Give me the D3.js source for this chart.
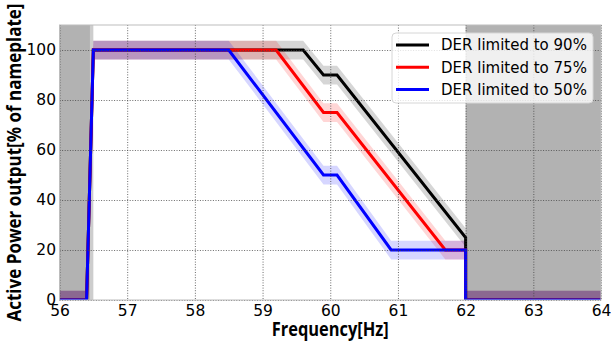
<!DOCTYPE html>
<html>
<head>
<meta charset="utf-8">
<script src="https://cdn.jsdelivr.net/npm/d3@7"></script>
<style>
  html, body { margin: 0; padding: 0; background: #fff; }
  svg { display: block; }
</style>
</head>
<body>
<div id="chart"></div>
<script>
// series: frequency breakpoints [Hz] and active power [% of nameplate]
const freq90 = [56, 56.4, 56.5, 59.6, 59.9, 60.1, 62, 62, 64];
const pow90  = [0, 0, 100, 100, 90, 90, 25, 0, 0];
const freq75 = [56, 56.4, 56.5, 59.2, 59.9, 60.1, 61.7, 62, 62, 64];
const pow75  = [0, 0, 100, 100, 75, 75, 20, 20, 0, 0];
const freq50 = [56, 56.4, 56.5, 58.5, 59.9, 60.1, 60.9, 62, 62, 64];
const pow50  = [0, 0, 100, 100, 50, 50, 20, 20, 0, 0];

const seriesNames = ['DER limited to 90%', 'DER limited to 75%', 'DER limited to 50%'];
const seriesColors = ['#000000', '#ff0000', '#0000ff'];

// trip zones (shaded)
const tripZones = [[56, 56.45], [62, 64]];
const tripEdge = [56.45, 56.5];

const xTicks = [56, 57, 58, 59, 60, 61, 62, 63, 64];
const yTicks = [0, 20, 40, 60, 80, 100];
const bandHalf = 3.75;

const W = 611, H = 341;
const margin = { top: 25, right: 10, bottom: 41, left: 59.5 };
const width = W - margin.left - margin.right;
const height = H - margin.top - margin.bottom;

const svg = d3.select('#chart').append('svg')
  .attr('width', W).attr('height', H);

svg.append('defs').append('clipPath').attr('id', 'plot-clip')
  .append('rect').attr('width', width).attr('height', height);

const g = svg.append('g')
  .attr('transform', `translate(${margin.left},${margin.top})`);

const x = d3.scaleLinear().domain([56, 64]).range([0, width]);
const y = d3.scaleLinear().domain([0, 110]).range([height, 0]);

const series = [
  freq90.map((f, i) => ({ f, p: pow90[i] })),
  freq75.map((f, i) => ({ f, p: pow75[i] })),
  freq50.map((f, i) => ({ f, p: pow50[i] }))
];

const plot = g.append('g').attr('clip-path', 'url(#plot-clip)');

// shaded trip zones
plot.selectAll('rect.zone')
  .data(tripZones)
  .enter().append('rect')
    .attr('class', 'zone')
    .attr('x', d => x(d[0]))
    .attr('width', d => x(d[1]) - x(d[0]))
    .attr('y', 0).attr('height', height)
    .attr('fill', '#b2b2b2');
plot.append('rect')
  .attr('x', x(tripEdge[0]))
  .attr('width', x(tripEdge[1]) - x(tripEdge[0]))
  .attr('y', 0).attr('height', height)
  .attr('fill', '#cdcdcd');

// tolerance bands
const band = d3.area()
  .x(d => x(d.f))
  .y0(d => y(d.p - bandHalf))
  .y1(d => y(d.p + bandHalf));
series.forEach((s, i) => {
  plot.append('path')
    .datum(s)
    .attr('fill', seriesColors[i])
    .attr('fill-opacity', 0.16)
    .attr('d', band);
});

// grid
g.append('g')
  .call(d3.axisBottom(x).tickValues(xTicks).tickSize(height).tickFormat(''))
  .call(a => a.select('.domain').remove())
  .call(a => a.selectAll('.tick line')
    .attr('stroke', '#444').attr('stroke-width', 0.8).attr('stroke-dasharray', '1,1.6'));
g.append('g')
  .call(d3.axisLeft(y).tickValues(yTicks).tickSize(-width).tickFormat(''))
  .call(a => a.select('.domain').remove())
  .call(a => a.selectAll('.tick line')
    .attr('stroke', '#444').attr('stroke-width', 0.8).attr('stroke-dasharray', '1,1.6'));

// frame
g.append('rect')
  .attr('width', width).attr('height', height)
  .attr('fill', 'none').attr('stroke', '#bdbdbd').attr('stroke-width', 1);

// lines
const line = d3.line().x(d => x(d.f)).y(d => y(d.p));
series.forEach((s, i) => {
  plot.append('path')
    .datum(s)
    .attr('fill', 'none')
    .attr('stroke', seriesColors[i])
    .attr('stroke-width', 3)
    .attr('stroke-linejoin', 'miter')
    .attr('d', line);
});

// tick labels
g.append('g')
  .attr('transform', `translate(0,${height})`)
  .call(d3.axisBottom(x).tickValues(xTicks).tickSize(0).tickPadding(5).tickFormat(d3.format('d')))
  .call(a => a.select('.domain').remove())
  .call(a => a.selectAll('text')
    .attr('font-family', 'DejaVu Sans').attr('font-size', 15.5).attr('fill', '#000'));
g.append('g')
  .call(d3.axisLeft(y).tickValues(yTicks).tickSize(0).tickPadding(3.5).tickFormat(d3.format('d')))
  .call(a => a.select('.domain').remove())
  .call(a => a.selectAll('text')
    .attr('font-family', 'DejaVu Sans').attr('font-size', 15.5).attr('fill', '#000'));

// axis labels
svg.append('text')
  .attr('x', margin.left + width / 2).attr('y', 335.5)
  .attr('text-anchor', 'middle')
  .attr('font-family', 'Open Sans').attr('font-weight', 'bold').attr('font-size', 19.5)
  .attr('textLength', 117).attr('lengthAdjust', 'spacingAndGlyphs')
  .text('Frequency[Hz]');
svg.append('text')
  .attr('transform', `translate(21,${margin.top + height / 2}) rotate(-90)`)
  .attr('text-anchor', 'middle')
  .attr('font-family', 'Open Sans').attr('font-weight', 'bold').attr('font-size', 19.5)
  .attr('textLength', 318).attr('lengthAdjust', 'spacingAndGlyphs')
  .text('Active Power output[% of nameplate]');

// legend
const legend = svg.append('g').attr('transform', 'translate(392,33)');
legend.append('rect')
  .attr('width', 201).attr('height', 70).attr('rx', 4)
  .attr('fill', '#fff').attr('fill-opacity', 0.8)
  .attr('stroke', '#d6d6d6').attr('stroke-width', 1);
const rows = legend.selectAll('g.row')
  .data(seriesNames)
  .enter().append('g')
    .attr('class', 'row')
    .attr('transform', (d, i) => `translate(0,${12 + i * 22.3})`);
rows.append('line')
  .attr('x1', 4).attr('x2', 37)
  .attr('stroke', (d, i) => seriesColors[i]).attr('stroke-width', 3);
rows.append('text')
  .attr('x', 49).attr('dy', '0.36em')
  .attr('font-family', 'DejaVu Sans').attr('font-size', 15)
  .attr('fill', '#000')
  .text(d => d);
</script>
</body>
</html>
